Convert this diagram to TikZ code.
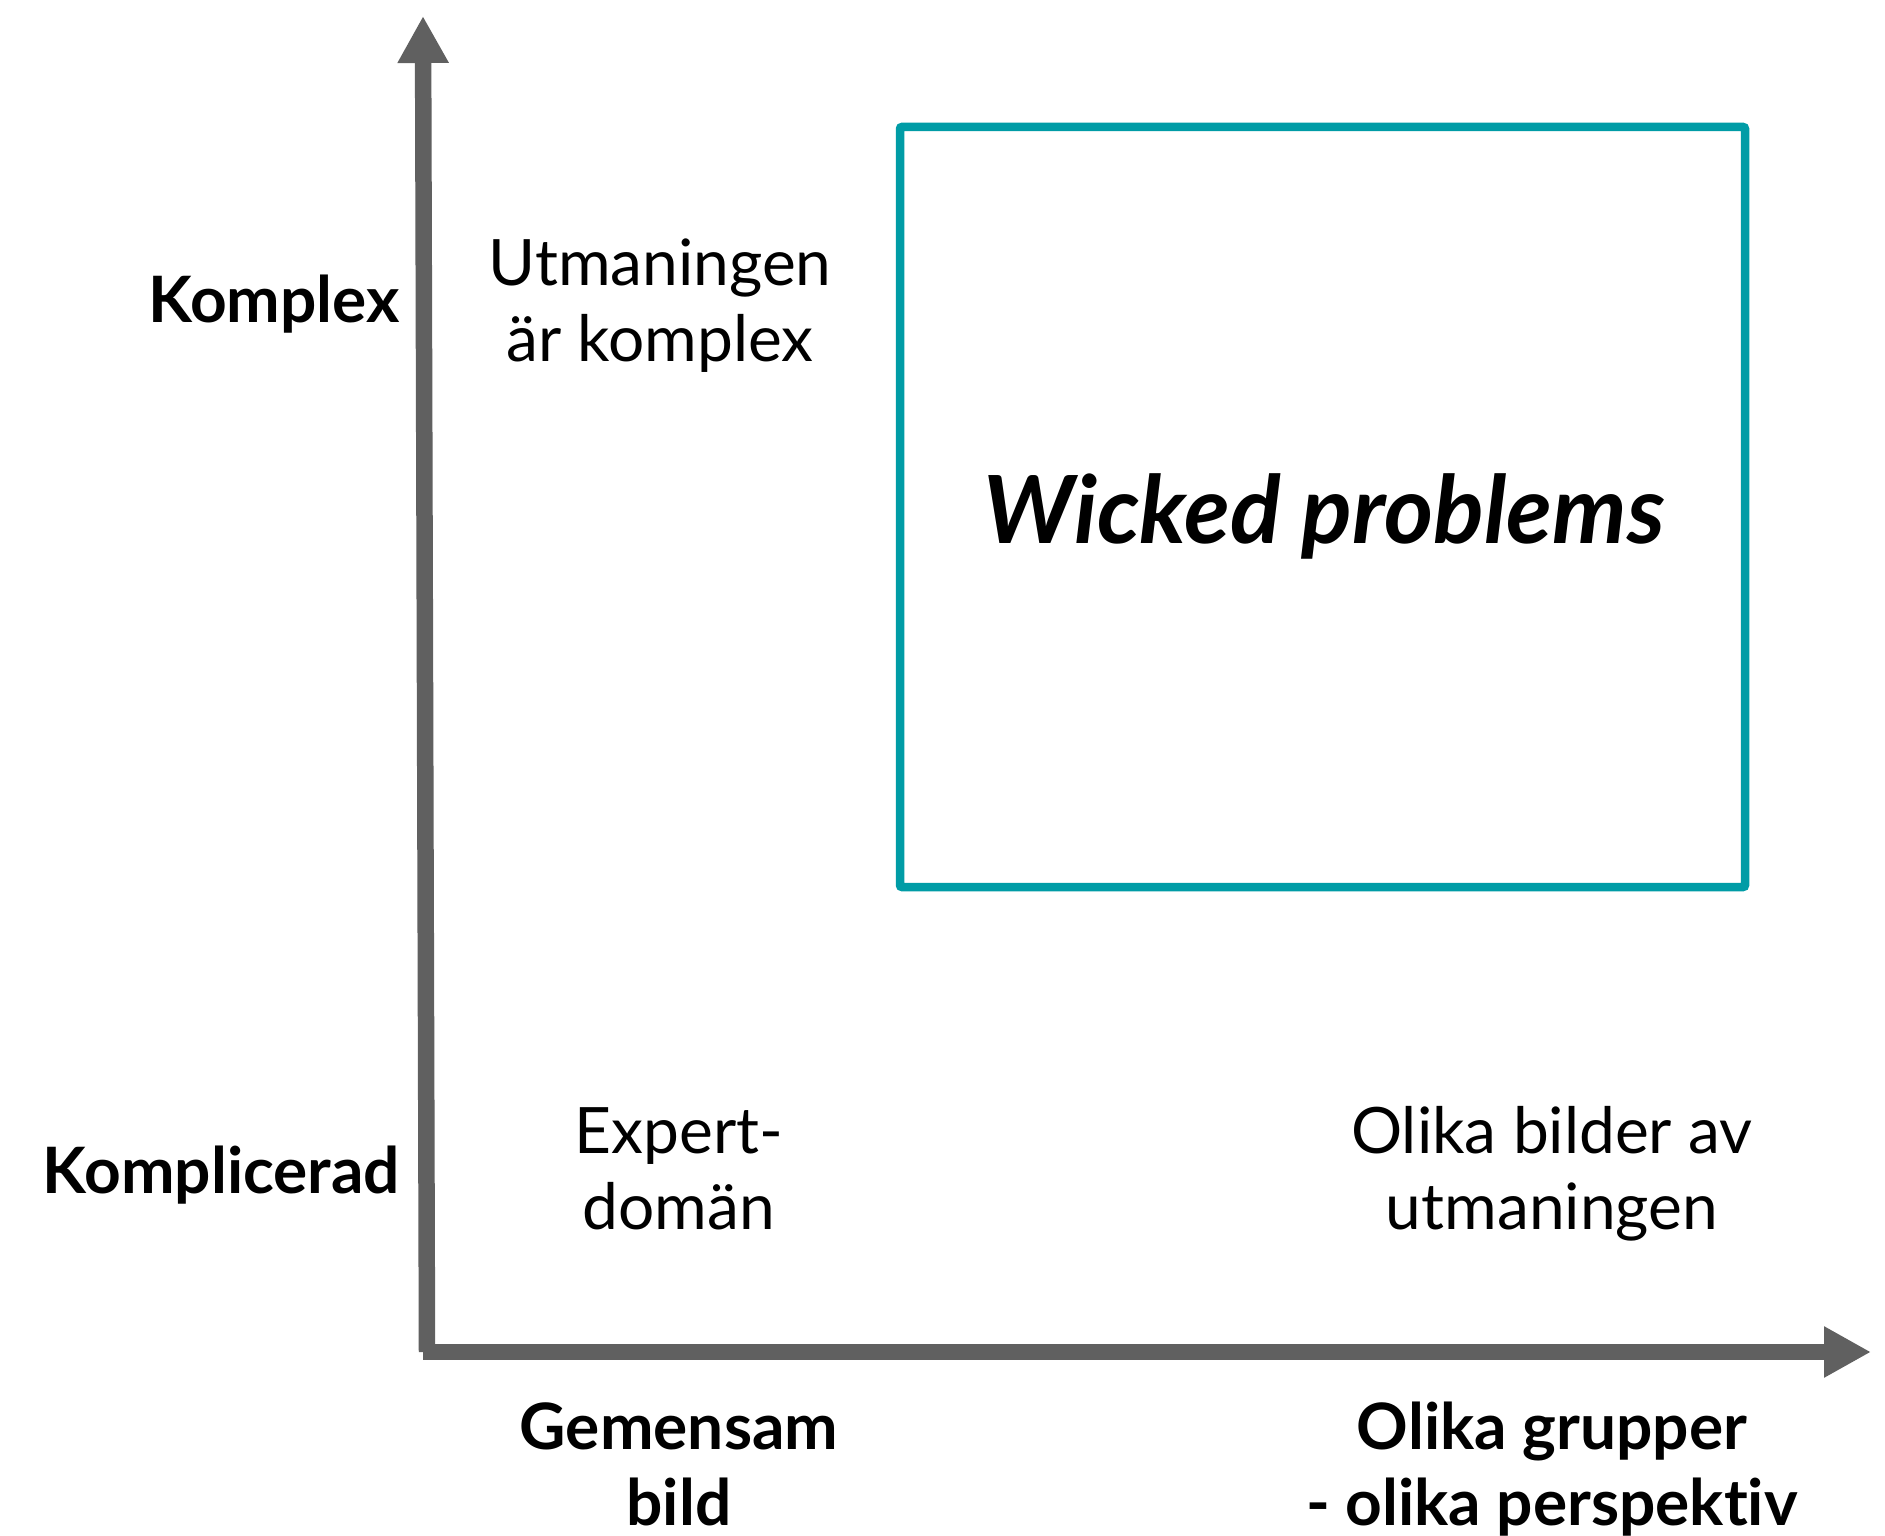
\documentclass[tikz,border=0pt]{standalone}
\usepackage{fontspec}
\setmainfont{Lato}[Ligatures={NoCommon,NoRequired},RawFeature={-liga;-dlig}]
\usetikzlibrary{arrows.meta}
\definecolor{axisgray}{HTML}{606060}
\definecolor{boxteal}{HTML}{009CA6}
\begin{document}
\begin{tikzpicture}[x=1pt,y=-1pt,
  axis/.style={draw=axisgray,line width=16.5pt,line cap=butt,
    -{Triangle[length=47pt,width=48pt]}},
  axislabel/.style={font=\fontsize{64}{76}\bfseries\selectfont,align=center,inner sep=0pt},
  cellnote/.style={font=\fontsize{64}{76}\selectfont,align=center,inner sep=0pt},
  framebox/.style={draw=boxteal,line width=8.5pt,rounded corners=2pt,inner sep=0pt}]
  \useasboundingbox[fill=white] (0,0) rectangle (1885,1536);

  % axes
  \coordinate (ybase) at (427,1352);
  \coordinate (ytop) at (423,16);
  \coordinate (xbase) at (423,1352);
  \coordinate (xend) at (1871,1352);
  \draw[axis] (ybase) -- (ytop);
  \draw[axis] (xbase) -- (xend);

  % the upper right region
  \node[framebox,minimum width=845pt,minimum height=760pt] (box) at (1322.5,507) {};
  \node[inner sep=0pt,anchor=base,font=\fontsize{94}{110}\bfseries\itshape\selectfont] (wicked) at (1324,543) {Wicked problems};

  % axis labels (multi-line nodes sit on the baseline of their last line)
  \node[axislabel,anchor=base east] (komplex) at (400,322) {Komplex};
  \node[axislabel,anchor=base east] (komplicerad) at (400,1193) {Komplicerad};
  \node[axislabel,anchor=base] (gemensam) at (679,1525) {Gemensam\\bild};
  \node[axislabel,anchor=base] (grupper) at (1552,1525) {Olika grupper\\- olika perspektiv};

  % cell notes
  \node[cellnote,anchor=base] (utmaning) at (660,361) {Utmaningen\\är komplex};
  \node[cellnote,anchor=base] (expert) at (679,1229) {Expert-\\domän};
  \node[cellnote,anchor=base] (bilder) at (1552,1229) {Olika bilder av\\utmaningen};
\end{tikzpicture}
\end{document}
